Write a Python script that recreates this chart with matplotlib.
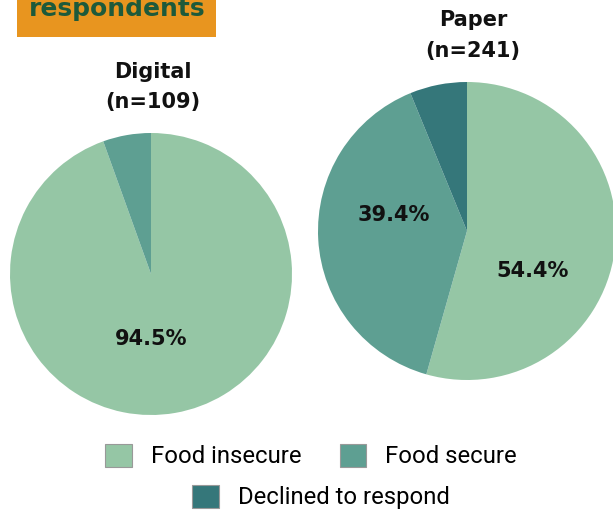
import matplotlib.pyplot as plt
from matplotlib.patches import Patch, Rectangle

# food security status by survey mode
categories = ['Food insecure', 'Food secure', 'Declined to respond']
colors = ['#95c6a5', '#5e9f92', '#35777a']

digital_vals = [94.5, 5.5, 0.0]
paper_vals = [54.4, 39.4, 6.2]
digital_n = 109
paper_n = 241

W, H = 613, 515
fig = plt.figure(figsize=(W / 100, H / 100), dpi=100)

BOLD = 'DejaVu Sans'


def px_axes(left, top, width, height):
    """axes placed by pixel box (top-left origin)"""
    return fig.add_axes([left / W, (H - top - height) / H, width / W, height / H])


def draw_pie(ax, vals, label_pos):
    ax.pie(vals, colors=colors, startangle=90, counterclock=False,
           radius=1, wedgeprops=dict(linewidth=0))
    for v, (x, y) in zip(vals, label_pos):
        if v <= 0 or (x is None):
            continue
        ax.text(x, y, '{:.1f}%'.format(v), ha='center', va='center',
                fontsize=15, fontweight='bold', family=BOLD, color='#111111')
    ax.set_xlim(-1, 1)
    ax.set_ylim(-1, 1)
    ax.set_aspect('equal')
    ax.axis('off')


ax1 = px_axes(10, 133, 282, 282)
draw_pie(ax1, digital_vals, [(0.0, -0.46), (None, None), (None, None)])

ax2 = px_axes(318, 82, 298, 298)
draw_pie(ax2, paper_vals, [(0.44, -0.27), (-0.49, 0.11), (None, None)])

title_kw = dict(ha='center', va='center', fontsize=15, fontweight='bold',
                family=BOLD, color='#111111')
fig.text(153 / W, 1 - 72 / H, 'Digital', **title_kw)
fig.text(153 / W, 1 - 102 / H, '(n={})'.format(digital_n), **title_kw)
fig.text(473 / W, 1 - 20 / H, 'Paper', **title_kw)
fig.text(473 / W, 1 - 51 / H, '(n={})'.format(paper_n), **title_kw)

# orange header tab, cut off at the top edge
fig.patches.append(Rectangle((17 / W, 1 - 37 / H), 199 / W, 40 / H,
                             transform=fig.transFigure, facecolor='#e8951f',
                             edgecolor='none'))
fig.text(117 / W, 1 - 9 / H, 'respondents', ha='center', va='center',
         fontsize=18, fontweight='bold', family=BOLD, color='#1d5a3b')

handles = [Patch(facecolor=c, edgecolor='#999999', linewidth=0.8) for c in colors]
leg_kw = dict(frameon=False, prop={'family': 'Roboto', 'size': 17.2},
              handlelength=1.1, handleheight=1.1, handletextpad=0.8,
              columnspacing=1.6, borderaxespad=0)
fig.legend(handles[:2], categories[:2], loc='center', ncol=2,
           bbox_to_anchor=(311 / W, 1 - 456 / H), **leg_kw)
fig.legend(handles[2:], categories[2:], loc='center', ncol=1,
           bbox_to_anchor=(321 / W, 1 - 497 / H), **leg_kw)

fig.savefig('out.png', dpi=100)
